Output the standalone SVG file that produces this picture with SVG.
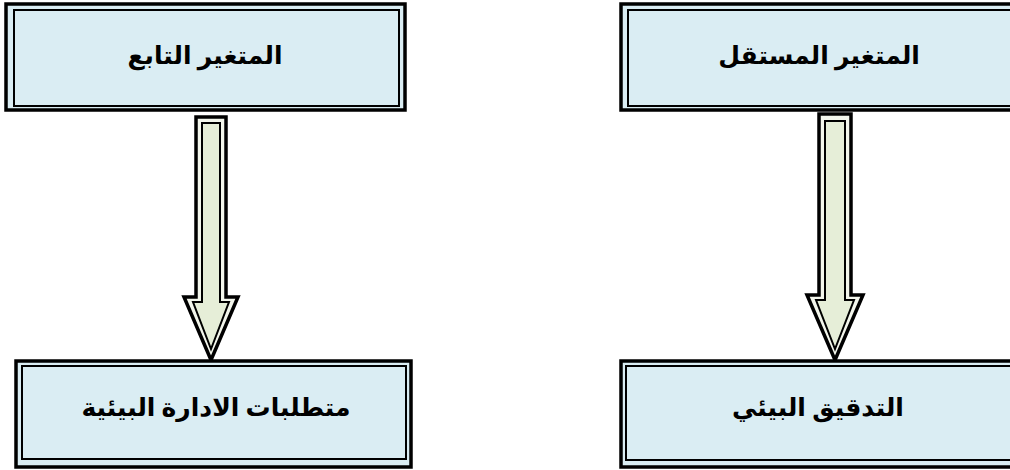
<svg xmlns="http://www.w3.org/2000/svg" width="1010" height="470" viewBox="0 0 1010 470">
<style>
.bo{fill:#DAEDF3;stroke:#000;stroke-width:3.5}
.bi{fill:#DAEDF3;stroke:#000;stroke-width:2}
.ao{fill:#F3F6EC;stroke:#000;stroke-width:3.5;stroke-linejoin:miter}
.ai{fill:#E6EED8;stroke:#000;stroke-width:2;stroke-linejoin:miter}
.t{font-family:"Liberation Serif","DejaVu Serif","DejaVu Sans",serif;font-weight:bold;font-size:25px;fill:#000;text-anchor:middle}
</style>
<rect width="1010" height="470" fill="#fff"/>
<g id="connectors">
  <g id="arrow-left">
    <polygon class="ao" points="196,117 226,117 226,297 238,297 211,360 184,297 196,297"/>
    <polygon class="ai" points="202,123 220,123 220,302 229,302 211,349 193,302 202,302"/>
  </g>
  <g id="arrow-right">
    <polygon class="ao" points="819,114 851,114 851,295 863,295 835,360 807,295 819,295"/>
    <polygon class="ai" points="825,121 845,121 845,300 854,300 835,349 816,300 825,300"/>
  </g>
</g>
<g id="node-dependent">
  <rect class="bo" x="6" y="4" width="399" height="106"/>
  <rect class="bi" x="14" y="10" width="385" height="96"/>
  <text class="t" x="205" y="64">المتغير التابع</text>
</g>
<g id="node-independent">
  <rect class="bo" x="621" y="4" width="420" height="106"/>
  <rect class="bi" x="628" y="10" width="410" height="96"/>
  <text class="t" x="819" y="64">المتغير المستقل</text>
</g>
<g id="node-requirements">
  <rect class="bo" x="16" y="361" width="395" height="106"/>
  <rect class="bi" x="22" y="366" width="384" height="93"/>
  <text class="t" x="216" y="416">متطلبات الادارة البيئية</text>
</g>
<g id="node-audit">
  <rect class="bo" x="621" y="361" width="420" height="106"/>
  <rect class="bi" x="626" y="366" width="410" height="94"/>
  <text class="t" x="818" y="416">التدقيق البيئي</text>
</g>
</svg>
